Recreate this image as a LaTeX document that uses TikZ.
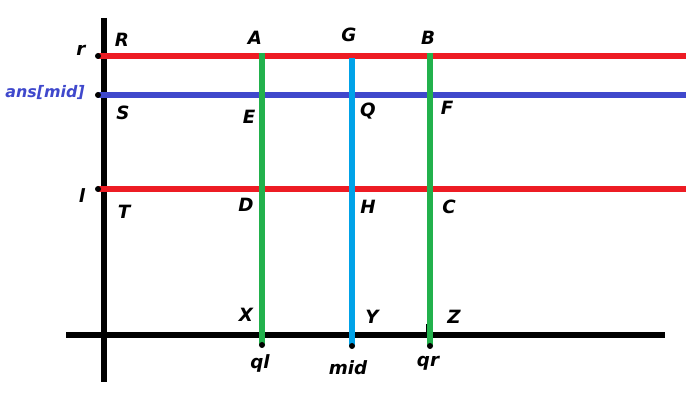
\documentclass[tikz,border=0pt]{standalone}
\usepackage{fontspec}
\setmainfont{DejaVu Sans}
\definecolor{paintred}{RGB}{237,28,36}
\definecolor{paintblue}{RGB}{63,72,204}
\definecolor{paintgreen}{RGB}{34,177,76}
\definecolor{paintcyan}{RGB}{0,162,232}
\tikzset{
  lbl/.style={font=\fontsize{13}{15}\selectfont\bfseries\itshape, inner sep=0pt},
  thickline/.style={line width=3.6pt},
  enddot/.style={fill=black}
}
\begin{document}
\begin{tikzpicture}[x=0.025cm, y=-0.025cm]
  \useasboundingbox (0,0) rectangle (686,405);
  % 坐标轴
  \coordinate (axtop) at (104,18);
  \coordinate (axbot) at (104,382);
  \coordinate (axleft) at (66,335);
  \coordinate (axright) at (665,335);
  \draw[thickline] (axtop) -- (axbot);
  \draw[thickline] (axleft) -- (axright);
  % 水平线 r, ans[mid], l
  \coordinate (r0) at (98,56);   \coordinate (r1) at (686,56);
  \coordinate (m0) at (98,95);   \coordinate (m1) at (686,95);
  \coordinate (l0) at (98,189);  \coordinate (l1) at (686,189);
  \draw[thickline, paintred] (r0) -- (r1);
  \draw[thickline, paintblue] (m0) -- (m1);
  \draw[thickline, paintred] (l0) -- (l1);
  \foreach \p in {r0,m0,l0} {
      \fill[enddot] (\p) circle (3);
  }
  % 竖线 ql, mid, qr
  \coordinate (ql0) at (262,53);  \coordinate (ql1) at (262,345);
  \coordinate (md0) at (352,58);  \coordinate (md1) at (352,346);
  \coordinate (qr0) at (430,53);  \coordinate (qr1) at (430,346);
  \draw[black, line width=2pt] (427,324) -- (427,335);
  \draw[thickline, paintgreen] (ql0) -- (ql1);
  \draw[thickline, paintcyan] (md0) -- (md1);
  \draw[thickline, paintgreen] (qr0) -- (qr1);
  \foreach \p in {ql1,md1,qr1} {
      \fill[enddot] (\p) circle (3);
  }
  % 左侧标注
  \node[lbl] (rlab) at (81,50) {r};
  \node[lbl, paintblue, font=\fontsize{11.3}{13}\selectfont\bfseries\itshape] (anslab) at (45,93) {ans[mid]};
  \node[lbl] (llab) at (82,196) {l};
  \node[lbl] (R) at (122,40) {R};
  \node[lbl] (S) at (123,113) {S};
  \node[lbl] (T) at (124,212) {T};
  % 交点标注
  \node[lbl] (A) at (255,38) {A};
  \node[lbl] (G) at (349,35) {G};
  \node[lbl] (B) at (428,38) {B};
  \node[lbl] (E) at (249,117) {E};
  \node[lbl] (Q) at (368,111) {Q};
  \node[lbl] (F) at (447,108) {F};
  \node[lbl] (D) at (246,205) {D};
  \node[lbl] (H) at (368,207) {H};
  \node[lbl] (C) at (449,207) {C};
  \node[lbl] (X) at (246,315) {X};
  \node[lbl] (Y) at (372,317) {Y};
  \node[lbl] (Z) at (454,317) {Z};
  % 底部标注
  \node[lbl] (qllab) at (260,363) {ql};
  \node[lbl] (midlab) at (348,368) {mid};
  \node[lbl] (qrlab) at (428,363) {qr};
\end{tikzpicture}
\end{document}
